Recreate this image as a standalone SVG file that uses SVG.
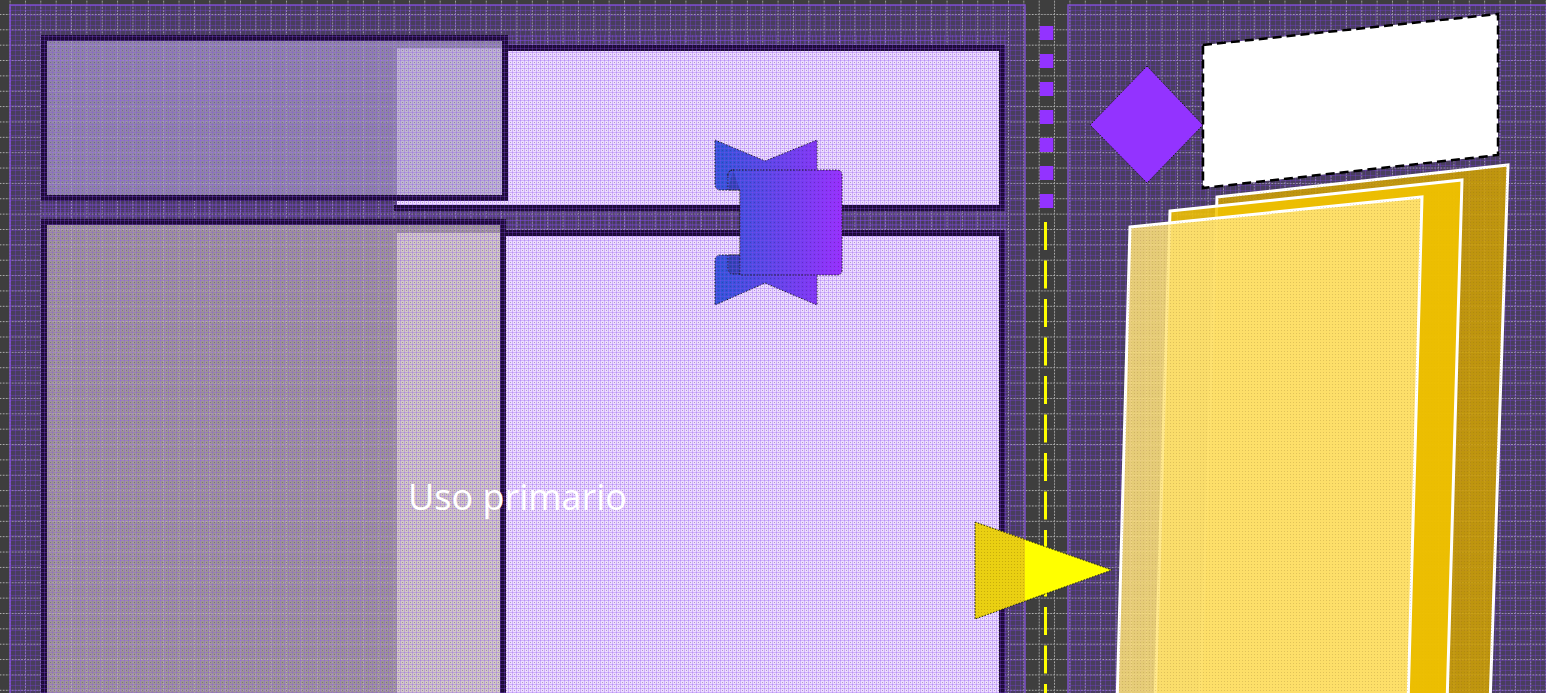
<svg xmlns="http://www.w3.org/2000/svg" width="1546" height="693" viewBox="0 0 1546 693">
<defs>
<style>
.rb{fill:none;stroke:#1c0a35;stroke-width:6}
.dot{stroke:#1a1a1a;stroke-width:1;stroke-dasharray:1.5 1.5}
.paper{stroke:#ffffff;stroke-width:3;fill-opacity:0.86}
</style>
<pattern id="grid" patternUnits="userSpaceOnUse" x="9.6" y="-1.4" width="15.36" height="15.36">
<g fill="#bdbdbd">
<rect x="-0.8" y="-0.8" width="1.7" height="1.7"/>
<rect x="-0.8" y="2.3" width="1.7" height="1.7"/>
<rect x="-0.8" y="5.4" width="1.7" height="1.7"/>
<rect x="-0.8" y="8.5" width="1.7" height="1.7"/>
<rect x="-0.8" y="11.6" width="1.7" height="1.7"/>
<rect x="2.3" y="-0.8" width="1.7" height="1.7"/>
<rect x="5.4" y="-0.8" width="1.7" height="1.7"/>
<rect x="8.5" y="-0.8" width="1.7" height="1.7"/>
<rect x="11.6" y="-0.8" width="1.7" height="1.7"/>
<rect x="14.56" y="-0.8" width="1.7" height="1.7"/>
<rect x="-0.8" y="14.56" width="1.7" height="1.7"/>
</g>
</pattern>
<pattern id="fine" patternUnits="userSpaceOnUse" width="5" height="5">
<rect x="0" y="0" width="5" height="1" fill="#8040e8" opacity="0.3"/>
<rect x="0" y="0" width="1" height="5" fill="#8040e8" opacity="0.3"/>
</pattern>
<pattern id="over" patternUnits="userSpaceOnUse" width="4" height="4">
<rect x="0" y="0" width="4" height="1" fill="#8a4cf0" opacity="0.3"/>
<rect x="0" y="0" width="1" height="4" fill="#8a4cf0" opacity="0.3"/>
<rect x="2" y="2" width="1" height="1" fill="#3a2060" opacity="0.35"/>
</pattern>
<pattern id="pdots" patternUnits="userSpaceOnUse" width="3" height="3">
<rect x="0" y="0" width="1" height="1" fill="#7a5a20" opacity="0.22"/>
</pattern>
<pattern id="tdots" patternUnits="userSpaceOnUse" width="3" height="3">
<rect x="0" y="0" width="1" height="1" fill="#8a6a00" opacity="0.35"/>
</pattern>
<linearGradient id="scrollg" gradientUnits="userSpaceOnUse" x1="722" y1="0" x2="842" y2="0">
<stop offset="0" stop-color="#2f55d8"/>
<stop offset="1" stop-color="#9a2dff"/>
</linearGradient>
<clipPath id="nodesc">
<rect x="41" y="35" width="967" height="664"/>
</clipPath>
</defs>

<g id="background">
<rect x="0" y="0" width="1546" height="693" fill="#3e3e3e"/>
<rect x="0" y="0" width="1546" height="693" fill="url(#grid)"/>
</g>

<g id="panel-left">
<rect x="10" y="5" width="1015" height="700" fill="#7a3fe0" fill-opacity="0.2" stroke="#7e52c8" stroke-width="1.5"/>
<rect x="10" y="5" width="1015" height="700" fill="url(#fine)"/>
</g>
<g id="panel-right">
<rect x="1068" y="5" width="490" height="700" fill="#7a3fe0" fill-opacity="0.2" stroke="#7e52c8" stroke-width="1.5"/>
<rect x="1068" y="5" width="490" height="700" fill="url(#fine)"/>
</g>

<g id="node-top-right">
<rect x="397" y="48" width="605" height="159" fill="#eedcff"/>
<path class="rb" d="M505,48 H1002 V208 H394"/>
</g>
<g id="node-bottom-right">
<rect x="397" y="233" width="605" height="470" fill="#eedcff"/>
<path class="rb" d="M503,233 H1002 V700"/>
</g>
<g id="node-top-left">
<rect x="44" y="38" width="461" height="160" fill="#aca6bc" fill-opacity="0.7"/>
<rect class="rb" x="44" y="38" width="461" height="160"/>
</g>
<g id="node-bottom-left">
<rect x="44" y="222" width="459" height="480" fill="#c6bfaa" fill-opacity="0.68"/>
<rect class="rb" x="44" y="222" width="459" height="480"/>
</g>

<g id="connectors">
<line x1="1046.5" y1="26" x2="1046.5" y2="208" stroke="#9333ff" stroke-width="13.5" stroke-dasharray="14 14"/>
<line x1="1045.5" y1="222" x2="1045.5" y2="693" stroke="#ffff00" stroke-width="3" stroke-dasharray="28 10.5"/>
</g>

<g id="node-scroll">
<path class="dot" fill="url(#scrollg)" d="M715,140 L765,161 L817,140 L817,305 L765,283 L715,305 L715,261 Q715,255 721,255 L740,255 L740,190 L721,190 Q715,190 715,184 Z"/>
<rect x="728" y="170" width="20" height="20" rx="5" fill="url(#scrollg)"/>
<rect x="728" y="170" width="20" height="20" rx="5" fill="#000" opacity="0.18"/>
<rect x="728" y="255" width="20" height="19" rx="5" fill="url(#scrollg)"/>
<rect x="728" y="255" width="20" height="19" rx="5" fill="#000" opacity="0.18"/>
<path class="dot" fill="url(#scrollg)" d="M733,170 H837 Q842,170 842,175 V270 Q842,275 837,275 H740 V190 M728,190 V175 Q728,170 733,170"/>
<path class="dot" fill="none" d="M728,176 Q728,170 734,170 M740,190 H728 M740,255 H728 V268 Q728,274 734,274 H740"/>
</g>

<g id="overlay-left" clip-path="url(#nodesc)">
<rect x="10" y="5" width="1015" height="700" fill="url(#over)"/>
</g>

<g id="node-triangle">
<polygon points="975,522 1112,570 975,619" fill="#ffff00"/>
<polygon points="975,522 1025,539.2 1025,600.8 975,619" fill="#ead012"/>
<polygon points="975,522 1025,539.2 1025,600.8 975,619" fill="url(#tdots)"/>
<polygon class="dot" points="975,522 1112,570 975,619" fill="none"/>
</g>

<g id="node-diamond">
<polygon class="dot" points="1147,66 1203,125 1147,183 1090,125" fill="#9333ff"/>
</g>

<g id="node-note">
<polygon points="1203,45 1498,14 1498,155 1203,188" fill="#ffffff" stroke="#000000" stroke-width="2.5" stroke-dasharray="9 5"/>
</g>

<g id="node-papers">
<polygon class="paper" points="1217,197 1508,165 1490,705 1200,705" fill="#d2a400"/>
<polygon points="1217,197 1508,165 1490,705 1200,705" fill="url(#pdots)"/>
<polygon class="paper" points="1170,211 1462,180 1447,705 1155,705" fill="#f3c500"/>
<polygon class="paper" points="1130,227 1422,197 1408,705 1117,705" fill="#ffe47a"/>
<polygon points="1130,227 1422,197 1408,705 1117,705" fill="url(#pdots)"/>
</g>

<g id="label">
<text x="408" y="510" font-family="'Open Sans', 'Noto Sans', sans-serif" font-size="36" fill="#ffffff">Uso primario</text>
</g>
</svg>
